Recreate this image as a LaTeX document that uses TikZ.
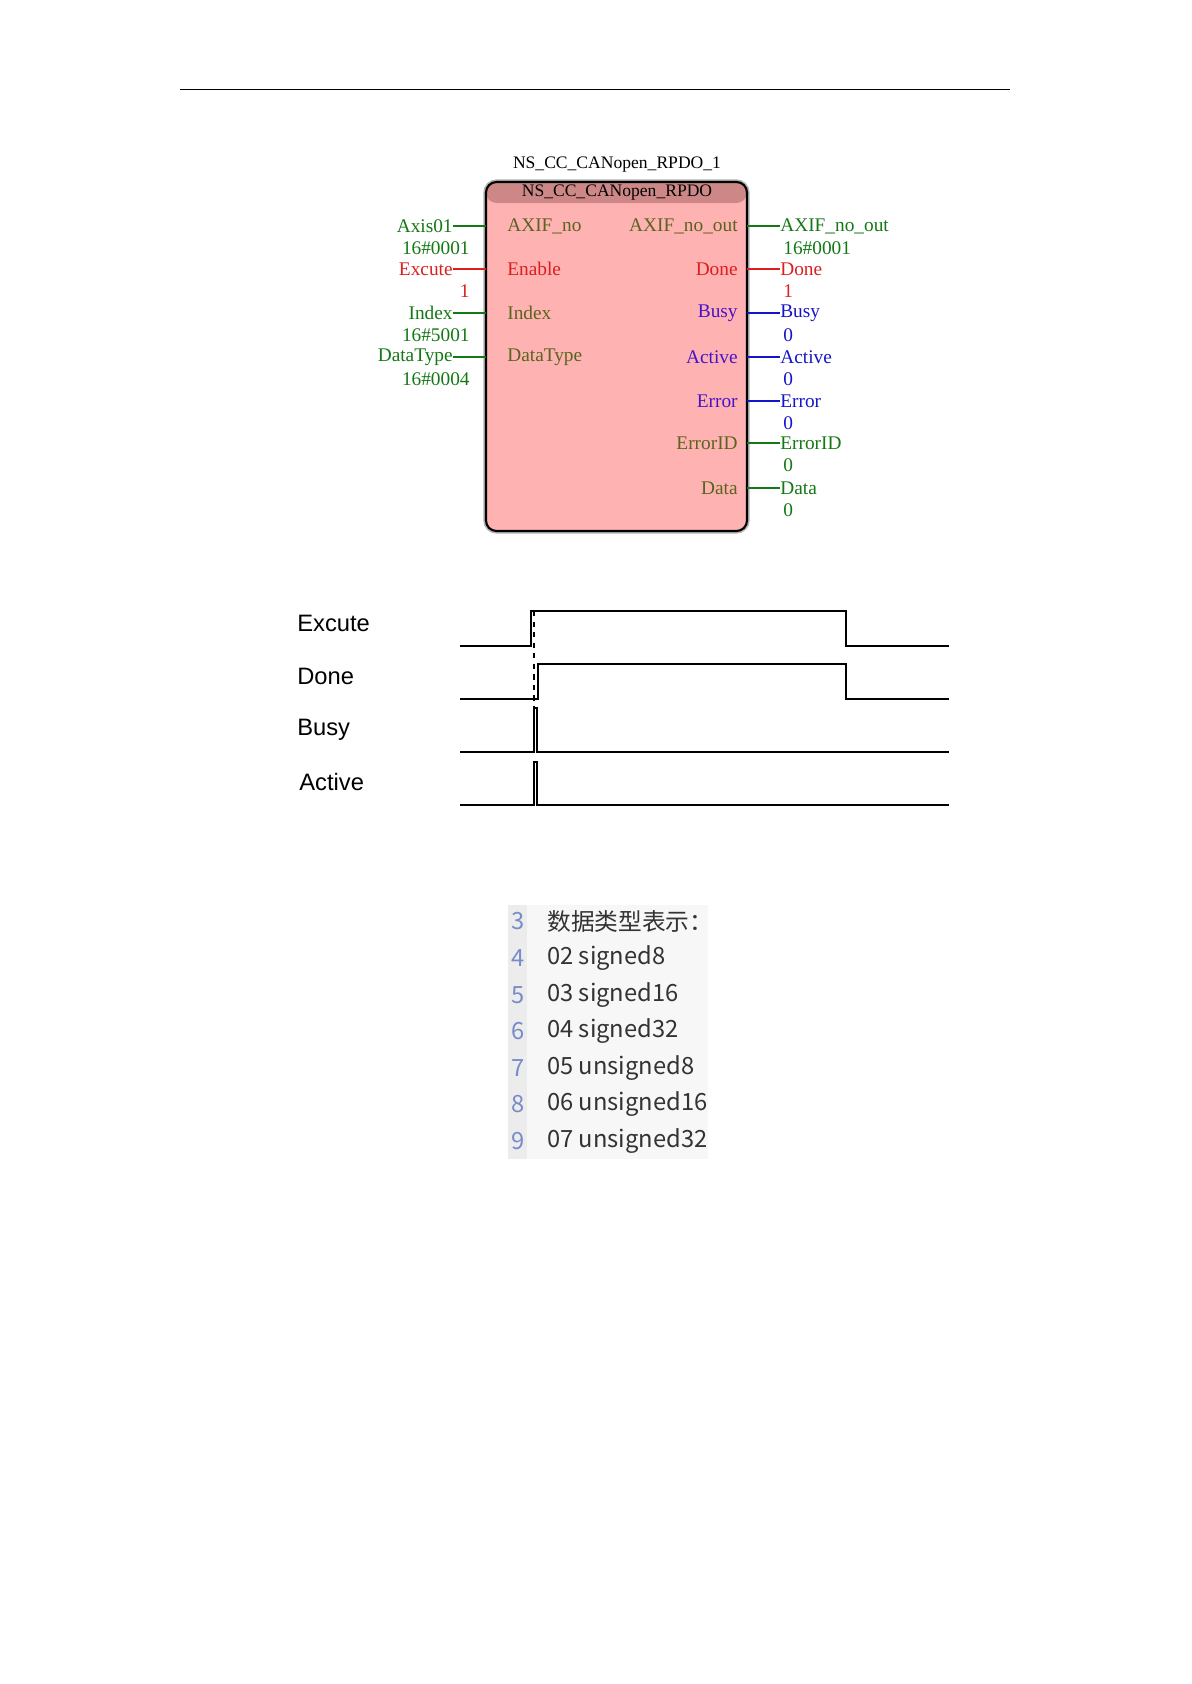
\documentclass[tikz,border=0pt]{standalone}
\usepackage{fontspec}
\setmainfont{Liberation Serif}
\newfontfamily\armfont{Liberation Sans}
\newfontfamily\cjkfont{Noto Sans CJK SC}
\definecolor{pinred}{RGB}{220,30,30}
\definecolor{pingreen}{RGB}{20,120,20}
\definecolor{pinolive}{RGB}{90,100,30}
\definecolor{pinblue}{RGB}{20,20,200}
\definecolor{pinpurple}{RGB}{70,20,200}
\definecolor{blockfill}{RGB}{255,178,178}
\definecolor{blockhead}{RGB}{205,135,135}
\definecolor{numblue}{RGB}{120,140,200}
\begin{document}
\begin{tikzpicture}[x=0.02cm,y=-0.02cm,
  pin/.style={font=\fontsize{11}{12}\selectfont, inner sep=0pt},
  wave/.style={line width=0.8pt},
  sig/.style={font=\armfont\fontsize{13.5}{14}\selectfont, anchor=west, inner sep=0pt},
  row/.style={font=\cjkfont\fontsize{13.5}{14}\selectfont, anchor=west, inner sep=0pt}]
\useasboundingbox (0,0) rectangle (1191,1684);
% rule at top
\draw (180,89) -- (1010,89);

% function block
\node[pin, font=\fontsize{10}{11}\selectfont] (inst) at (617,165) {NS\_CC\_CANopen\_RPDO\_1};
\draw[gray!60, line width=3pt, rounded corners=6pt] (486,182) rectangle (747,531);
\fill[blockfill, rounded corners=6pt] (486,182) rectangle (747,531);
\fill[blockhead, rounded corners=6pt] (486,182) -- (747,182) -- (747,203) -- (486,203) -- cycle;
\draw[line width=1.2pt, rounded corners=6pt] (486,182) rectangle (747,531);
\node[pin, font=\fontsize{10}{11}\selectfont] (head) at (617,193) {NS\_CC\_CANopen\_RPDO};

% inputs
\foreach \y/\name/\val/\pinname/\col/\incol in {
  226/Axis01/16\#0001/AXIF\_no/pingreen/pinolive,
  269/Excute/1/Enable/pinred/pinred,
  313/Index/16\#5001/Index/pingreen/pinolive,
  357/DataType/16\#0004/DataType/pingreen/pinolive}{
  \node[pin, anchor=east, text=\col] (in\y) at (453,\y) {\name};
  \node[pin, anchor=north east, text=\col] (inv\y) at (470,\y+15) {\val};
  \node[pin, anchor=west, text=\incol] (ip\y) at (507,\y) {\pinname};
  \draw[\col, line width=1pt] (in\y.east) -- (486,\y);
}

% outputs
\foreach \y/\name/\val/\col/\incol in {
  226/AXIF\_no\_out/16\#0001/pingreen/pinolive,
  269/Done/1/pinred/pinred,
  313/Busy/0/pinblue/pinpurple,
  357/Active/0/pinblue/pinpurple,
  401/Error/0/pinblue/pinpurple,
  443/ErrorID/0/pingreen/pinolive,
  488/Data/0/pingreen/pinolive}{
  \node[pin, anchor=east, text=\incol] (op\y) at (738,\y) {\name};
  \node[pin, anchor=west, text=\col] (out\y) at (780,\y) {\name};
  \node[pin, anchor=north west, text=\col] (outv\y) at (783,\y+15) {\val};
  \draw[\col, line width=1pt] (747,\y) -- (out\y.west);
}

% timing diagram
\node[sig] (excute) at (297,623) {Excute};
\node[sig] (done) at (297,676) {Done};
\node[sig] (busy) at (297,730) {Busy};
\node[sig] (active) at (299,782) {Active};
\draw[wave] (460,646) -- (531,646) -- (531,611) -- (846,611) -- (846,646) -- (949,646);
\draw[wave] (460,699) -- (538,699) -- (538,664) -- (846,664) -- (846,699) -- (949,699);
\draw[wave] (460,752) -- (534,752) -- (534,708) -- (537,708) -- (537,752) -- (949,752);
\draw[wave] (460,805) -- (534,805) -- (534,762) -- (537,762) -- (537,805) -- (949,805);
\draw[wave, dashed] (534,611) -- (534,708);

% data type list
\fill[gray!6] (527,905) rectangle (708,1159);
\fill[gray!15] (508,905) rectangle (527,1159);
\foreach \y/\n/\txt in {921/3/数据类型表示：, 958/4/02 signed8, 995/5/03 signed16,
  1031/6/04 signed32, 1068/7/05 unsigned8, 1104/8/06 unsigned16, 1141/9/07 unsigned32}{
  \node[row, text=numblue] (n\n) at (511,\y) {\n};
  \node[row, text=black!80] (t\n) at (547,\y) {\txt};
}
\end{tikzpicture}
\end{document}
